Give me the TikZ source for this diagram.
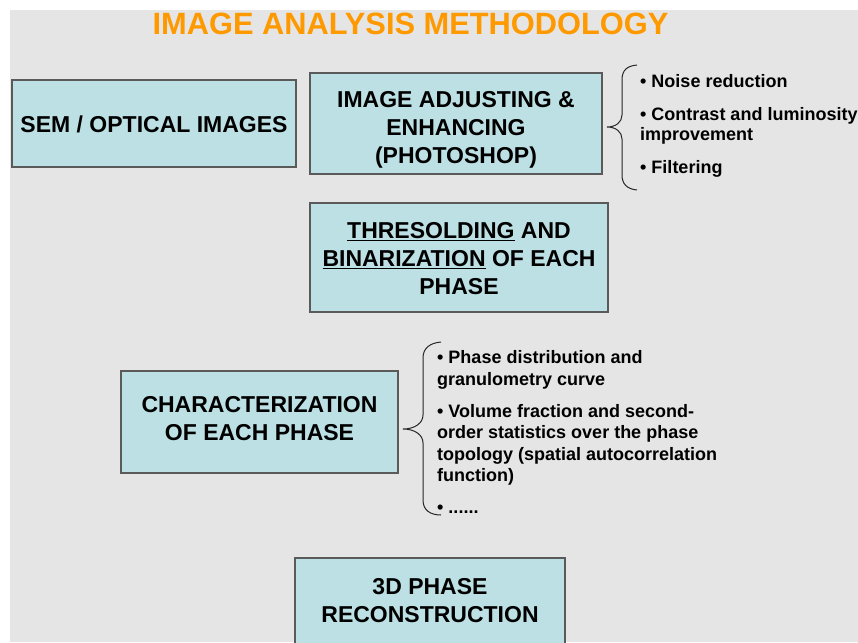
\documentclass[tikz,border=0pt]{standalone}
\usepackage{fontspec}
\setmainfont{Liberation Sans}
\definecolor{pagegray}{RGB}{229,229,229}
\definecolor{boxfill}{RGB}{188,224,228}
\definecolor{boxline}{RGB}{90,90,90}
\definecolor{titleorange}{RGB}{255,153,0}
\begin{document}
\begin{tikzpicture}[x=1pt,y=-1pt,
  stagebox/.style={draw=boxline, fill=boxfill, line width=1.2pt, inner sep=0pt},
  stagetext/.style={inner sep=0pt, align=center, font=\fontsize{23}{28}\selectfont\bfseries},
  noteline/.style={anchor=base west, inner sep=0pt, font=\fontsize{18}{21}\selectfont\bfseries},
  bracket/.style={draw=black!85, line width=1pt}]
\useasboundingbox (0,0) rectangle (858,642);
\clip (0,0) rectangle (858,642);
% slide background
\fill[pagegray] (10,10) rectangle (858,642);

% heading
\node[anchor=base, inner sep=0pt, text=titleorange, font=\fontsize{30.8}{34}\selectfont\bfseries]
  (title) at (410.5,35) {IMAGE ANALYSIS METHODOLOGY};

% processing stages: frames
\node[stagebox, minimum width=284pt, minimum height=87pt] (sem) at (154,123.5) {};
\node[stagebox, minimum width=292pt, minimum height=101pt] (adjust) at (456,123.5) {};
\node[stagebox, minimum width=298pt, minimum height=109pt] (thresh) at (459,257.5) {};
\node[stagebox, minimum width=277pt, minimum height=102pt] (charact) at (259.5,422) {};
\node[stagebox, minimum width=270pt, minimum height=94pt] (recon) at (430,605) {};

% processing stages: captions
\node[stagetext] (sem-t) at ([yshift=-1pt]sem.center) {SEM / OPTICAL IMAGES};
\node[stagetext] (adjust-t) at ([yshift=-6pt]adjust.center)
  {IMAGE ADJUSTING \&\\ENHANCING\\(PHOTOSHOP)};
\node[stagetext] (thresh-t) at ([yshift=-1pt]thresh.center)
  {\underline{THRESOLDING} AND\\\underline{BINARIZATION} OF EACH\\PHASE};
\node[stagetext] (charact-t) at ([yshift=3pt]charact.center)
  {CHARACTERIZATION\\OF EACH PHASE};
\node[stagetext] (recon-t) at ([yshift=4.5pt]recon.center)
  {3D PHASE\\RECONSTRUCTION};

% brace and notes for the enhancing step
\draw[bracket] (637,65) .. controls (627,66) and (622,70) .. (622,80) -- (622,115)
  .. controls (622,122) and (616,127) .. (607,127)
  .. controls (616,127) and (622,132) .. (622,139) -- (622,175)
  .. controls (622,184) and (627,189) .. (637,190);
\node[noteline] (n1) at (640,87.5) {• Noise reduction};
\node[noteline] (n2) at (640,120) {• Contrast and luminosity};
\node[noteline] (n3) at (640,140) {improvement};
\node[noteline] (n4) at (640,173.5) {• Filtering};

% brace and notes for the characterization step
\draw[bracket] (441,342) .. controls (430,343) and (423,348) .. (423,358) -- (423,415)
  .. controls (423,423) and (415,429) .. (403,429)
  .. controls (415,429) and (423,435) .. (423,443) -- (423,500)
  .. controls (423,510) and (430,515) .. (441,515);
\node[noteline] (c1) at (437,363.3) {• Phase distribution and};
\node[noteline] (c2) at (437,385) {granulometry curve};
\node[noteline] (c3) at (437,417.3) {• Volume fraction and second-};
\node[noteline] (c4) at (437,438.5) {order statistics over the phase};
\node[noteline] (c5) at (437,460) {topology (spatial autocorrelation};
\node[noteline] (c6) at (437,481.5) {function)};
\node[noteline] (c7) at (437,513.3) {• ......};
\end{tikzpicture}
\end{document}
